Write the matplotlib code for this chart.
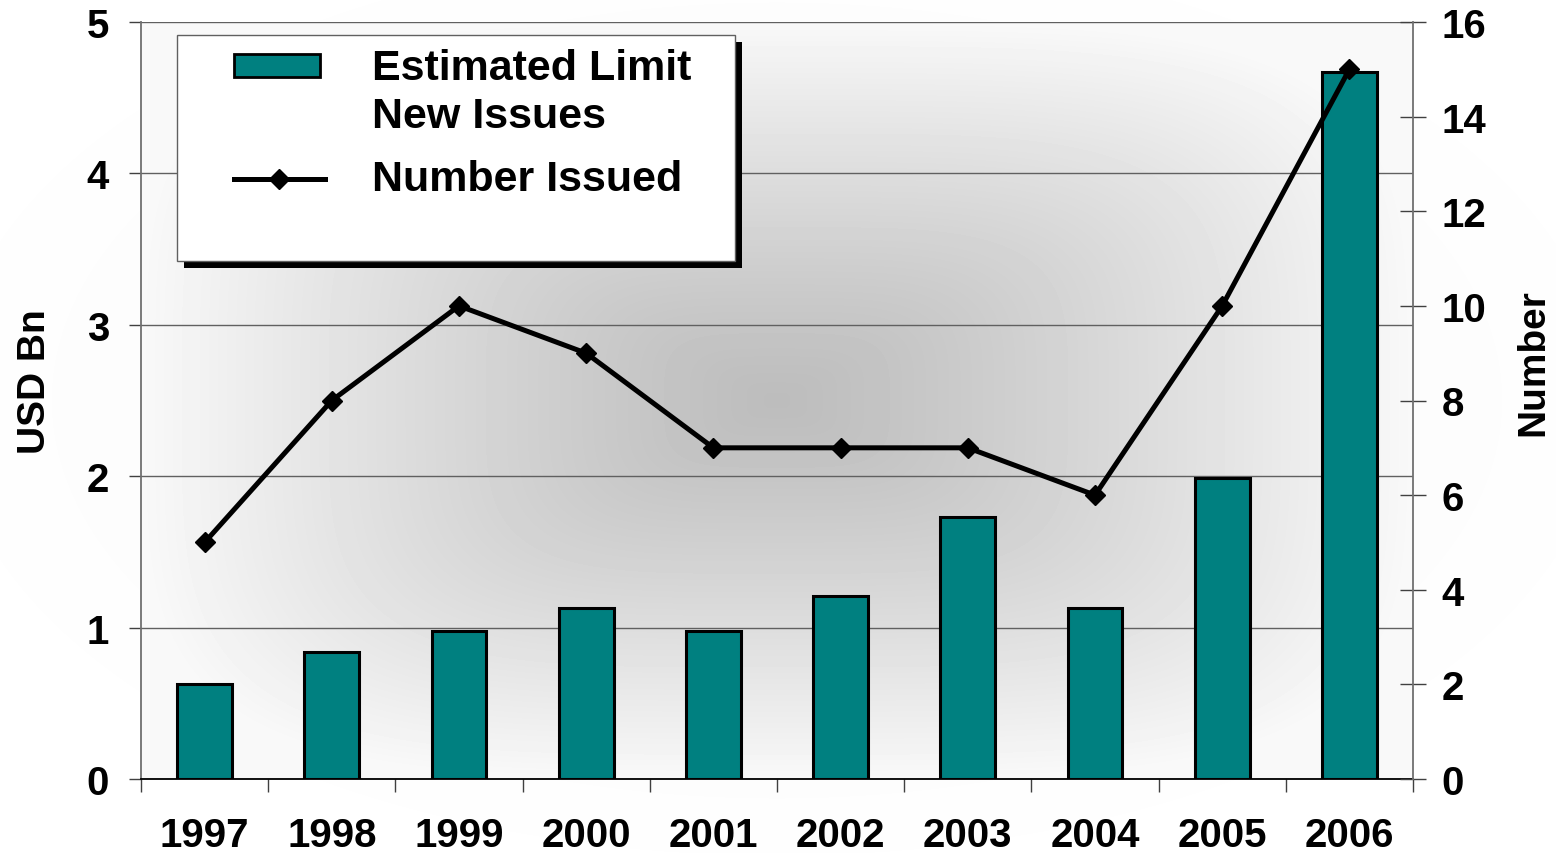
import numpy as np
import matplotlib.pyplot as plt
from matplotlib.patches import Rectangle
from matplotlib.lines import Line2D

plt.rcParams['font.family'] = ['Liberation Sans', 'DejaVu Sans']
plt.rcParams['font.weight'] = 'bold'

# datos
years = ['1997', '1998', '1999', '2000', '2001', '2002', '2003', '2004', '2005', '2006']
limit_bn = [0.63, 0.84, 0.98, 1.13, 0.98, 1.21, 1.73, 1.13, 1.99, 4.67]
number_issued = [5, 8, 10, 9, 7, 7, 7, 6, 10, 15]
bar_label = ['Estimated Limit', 'New Issues']
line_label = 'Number Issued'

teal = '#008080'
W, H = 1556, 854
L, R, T, B = 141, 1413, 23, 780   # area del grafico en pixeles
fig = plt.figure(figsize=(W / 100, H / 100), dpi=100)

# fondo: degradado claro en toda la figura, degradado "desde el centro" en el area del grafico
bg = fig.add_axes([0, 0, 1, 1], zorder=-10)
gx, gy = np.meshgrid(np.arange(W) + 0.5, np.arange(H) + 0.5)
cx, cy = (L + R) / 2, (T + B) / 2
r_out = np.sqrt(((gx - cx) / (W / 2)) ** 2 + ((gy - cy) / (H / 2)) ** 2)
g = 0.965 + 0.035 * np.clip(r_out / 1.2, 0, 1)
dx = np.abs(gx - cx) / ((R - L) / 2)
dy = np.abs(gy - cy) / ((B - T) / 2)
r_in = (dx ** 4 + dy ** 4) ** 0.25
inside = (gx >= L) & (gx <= R) & (gy >= T) & (gy <= B)
g_in = 0.74 + 0.235 * np.clip(r_in, 0, 1) ** 1.2
g[inside] = g_in[inside]
bg.imshow(g, cmap='gray', vmin=0, vmax=1, aspect='auto', extent=[0, W, H, 0],
          interpolation='bilinear')
bg.axis('off')

ax = fig.add_axes([L / W, 1 - B / H, (R - L) / W, (B - T) / H])
ax.patch.set_alpha(0)
x = np.arange(1, len(years) + 1)

ax.bar(x, limit_bn, width=0.43, color=teal, edgecolor='black', linewidth=2.2, zorder=3)
ax.set_xlim(0.5, len(years) + 0.5)
ax.set_ylim(0, 5)
ax.set_yticks(range(6))
ax.grid(axis='y', color='#606060', linewidth=1.0, zorder=0)
ax.set_xticks(x)
ax.set_xticklabels(years, fontsize=29, fontweight='bold')
ax.tick_params(axis='x', which='major', length=0, pad=27)
ax.set_xticks(np.arange(0.5, len(years) + 1), minor=True)
ax.tick_params(axis='x', which='minor', length=9, width=1.0, color='#404040', direction='out')
ax.tick_params(axis='y', length=9, width=1.0, color='#404040', labelsize=29, pad=14)
for lab in ax.get_yticklabels():
    lab.set_fontweight('bold')
ax.set_ylabel('USD Bn', fontsize=28, fontweight='bold')
ax.yaxis.label.set_va('center')
ax.yaxis.set_label_coords(-0.083, 0.526)
ax.spines['top'].set_visible(False)
ax.spines['right'].set_visible(False)
ax.spines['left'].set_color('#707070')
ax.spines['left'].set_linewidth(1.3)
ax.spines['bottom'].set_color('black')
ax.spines['bottom'].set_linewidth(1.3)

ax2 = ax.twinx()
ax2.plot(x, number_issued, color='black', linewidth=3.6, marker='D', markersize=10,
         markerfacecolor='black', markeredgecolor='black', zorder=5)
ax2.set_ylim(0, 16)
ax2.set_yticks(range(0, 17, 2))
ax2.tick_params(axis='y', direction='inout', length=19, width=1.0, color='#404040',
                labelsize=29, pad=11)
for lab in ax2.get_yticklabels():
    lab.set_fontweight('bold')
ax2.set_ylabel('Number', fontsize=28, fontweight='bold')
ax2.yaxis.label.set_va('center')
ax2.yaxis.set_label_coords(1.0943, 0.552)
for s in ['top', 'left', 'bottom']:
    ax2.spines[s].set_visible(False)
ax2.spines['right'].set_color('#707070')
ax2.spines['right'].set_linewidth(1.3)

# leyenda dibujada a mano (marco con sombra negra)
ov = fig.add_axes([0, 0, 1, 1], zorder=20)
ov.set_xlim(0, W)
ov.set_ylim(H, 0)
ov.axis('off')
ov.add_patch(Rectangle((184, 43), 558, 226, facecolor='black', edgecolor='none'))
ov.add_patch(Rectangle((177, 36), 558, 226, facecolor='white', edgecolor='#606060', linewidth=1))
ov.add_patch(Rectangle((234, 55), 86, 23, facecolor=teal, edgecolor='black', linewidth=2))
ov.add_line(Line2D([234, 325], [180, 180], color='black', linewidth=3.6))
ov.add_line(Line2D([279], [180], color='black', marker='D', markersize=10))
for txt, yb in zip(bar_label, [80, 128]):
    ov.text(372, yb, txt, fontsize=31, fontweight='bold', va='baseline', ha='left')
ov.text(372, 191, line_label, fontsize=31, fontweight='bold', va='baseline', ha='left')

fig.savefig('out.png', dpi=100)
